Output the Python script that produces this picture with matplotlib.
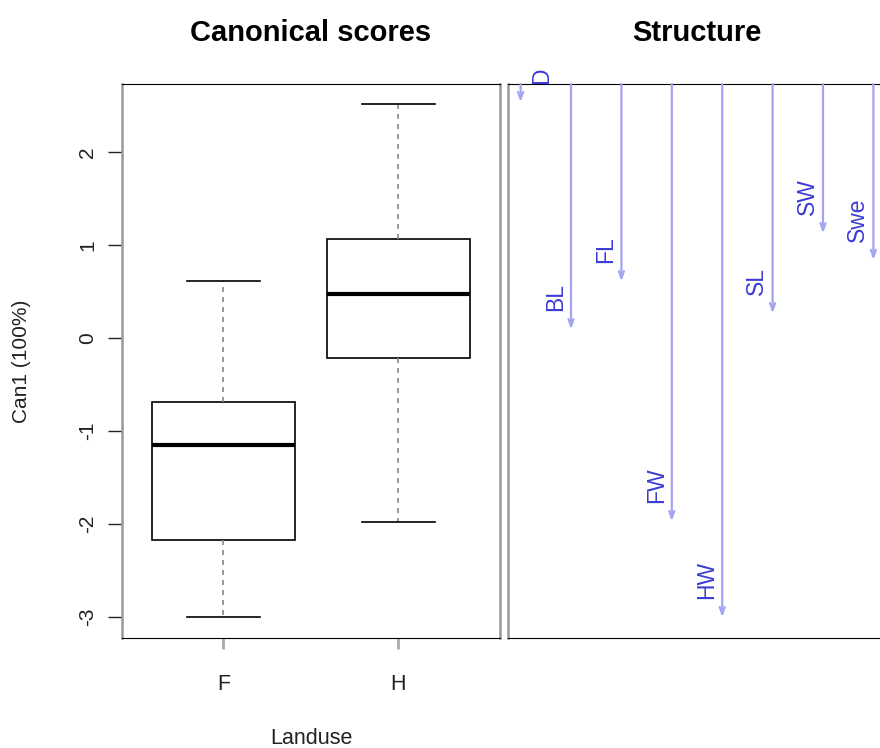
import matplotlib.pyplot as plt

plt.rcParams['font.family'] = ['Liberation Sans', 'DejaVu Sans']

# canonical scores by landuse (box summaries)
groups = ['F', 'H']
whisker_lo = [-3.00, -1.98]
q1 = [-2.17, -0.22]
medians = [-1.15, 0.47]
q3 = [-0.69, 1.06]
whisker_hi = [0.61, 2.52]

# structure coefficients
variables = ['D', 'BL', 'FL', 'FW', 'HW', 'SL', 'SW', 'Swe']
structure = [-0.034, -0.46, -0.37, -0.82, -1.0, -0.43, -0.28, -0.33]

fig = plt.figure(figsize=(8.8, 7.48), dpi=100)
ax1 = fig.add_axes([0.1386, 0.147, 0.4295, 0.7406])
ax2 = fig.add_axes([0.5773, 0.147, 0.4295, 0.7406])

stats = []
for i, g in enumerate(groups):
    stats.append(dict(label=g, whislo=whisker_lo[i], q1=q1[i], med=medians[i],
                      q3=q3[i], whishi=whisker_hi[i], fliers=[]))
ax1.bxp(stats, positions=[1, 2], widths=0.82, showfliers=False, patch_artist=True,
        boxprops=dict(facecolor='white', edgecolor='black', linewidth=1.2),
        medianprops=dict(color='black', linewidth=3),
        whiskerprops=dict(color='#888888', linestyle=(0, (3, 3)), linewidth=1.2),
        capprops=dict(color='black', linewidth=1.2), capwidths=0.42)
ax1.set_xlim(0.42, 2.58)
ax1.set_ylim(-3.23, 2.73)
ax1.set_yticks([-3, -2, -1, 0, 1, 2])
ax1.set_yticklabels(['-3', '-2', '-1', '0', '1', '2'], rotation=90, va='center')
ax1.tick_params(axis='y', length=10, width=1, pad=8, labelsize=15, colors='#222222')
ax1.tick_params(axis='x', length=8, width=2, color='#aaaaaa', pad=18, labelsize=15.5,
                labelcolor='#222222')
ax1.set_title('Canonical scores', fontsize=21, fontweight='bold', pad=31)
ax1.set_ylabel('Can1 (100%)', fontsize=15, color='#222222')
ax1.yaxis.set_label_coords(-0.24, 0.5)
ax1.set_xlabel('Landuse', fontsize=15.5, color='#222222', va='center')
ax1.xaxis.set_label_coords(0.5, -0.182)

for ax in (ax1, ax2):
    ax.spines['top'].set_color('black')
    ax.spines['bottom'].set_color('black')
    ax.spines['left'].set_color('#999999')
    ax.spines['right'].set_color('#999999')
    ax.spines['left'].set_linewidth(1.8)
    ax.spines['right'].set_linewidth(1.8)

# structure panel
xs = list(range(1, len(variables) + 1))
ax2.set_xlim(0.75, 8.25)
ax2.set_ylim(-1.039, 0)
ax2.set_xticks([])
ax2.set_yticks([])
for x, v, name in zip(xs, structure, variables):
    ax2.annotate('', xy=(x, v), xytext=(x, 0),
                 arrowprops=dict(arrowstyle='->,head_length=0.5,head_width=0.18',
                                 color='#a4a4f2', lw=1.6, shrinkA=0, shrinkB=0),
                 annotation_clip=False)
    if name == 'D':
        ax2.annotate(name, xy=(x, v), xytext=(7, 13), textcoords='offset points',
                     rotation=90, ha='left', va='bottom', fontsize=16.5,
                     color='#3c3cd6', annotation_clip=False)
    else:
        ax2.annotate(name, xy=(x, v), xytext=(-3, 13), textcoords='offset points',
                     rotation=90, ha='right', va='bottom', fontsize=16.5,
                     color='#3c3cd6')
ax2.set_title('Structure', fontsize=21, fontweight='bold', pad=31)

fig.savefig('out.png', dpi=100)
